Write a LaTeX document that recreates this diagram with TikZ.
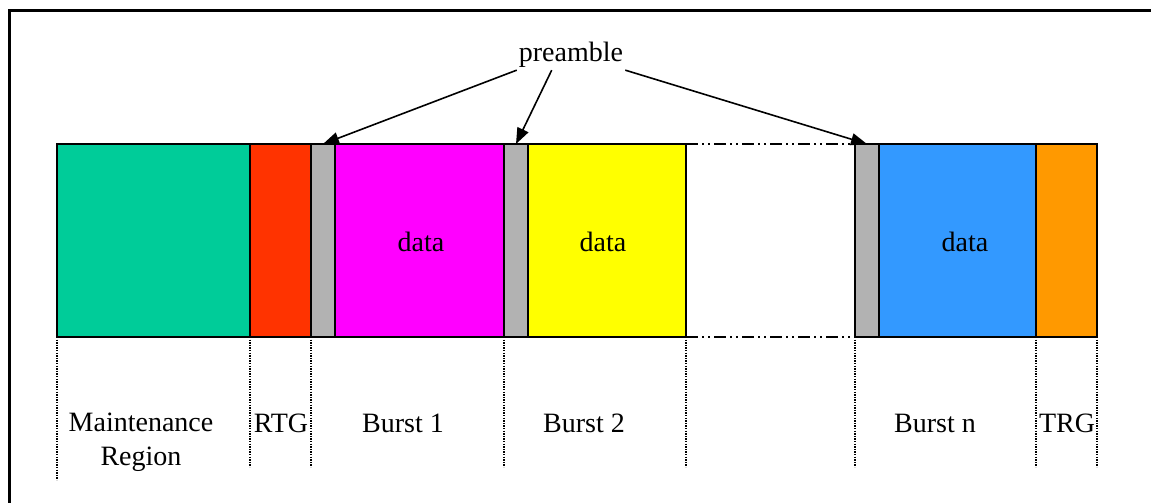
\documentclass[tikz,border=0pt]{standalone}
\usepackage{fontspec}
\setmainfont{Liberation Serif}
\usetikzlibrary{arrows.meta}
\definecolor{cgreen}{HTML}{00CC99}
\definecolor{cred}{HTML}{FF3300}
\definecolor{cgray}{HTML}{B2B2B2}
\definecolor{cmag}{HTML}{FF00FF}
\definecolor{cyel}{HTML}{FFFF00}
\definecolor{cblue}{HTML}{3399FF}
\definecolor{corange}{HTML}{FF9900}
\begin{document}
\begin{tikzpicture}[x=1pt,y=-1pt,
  seg/.style={draw=black,line width=2pt,minimum height=193pt,inner sep=0pt,anchor=north west,outer sep=0pt},
  gapbox/.style={minimum height=193pt,inner sep=0pt,anchor=north west,outer sep=0pt},
  dotline/.style={line width=1.3pt,dash pattern=on 1.3pt off 1.3pt},
  dashdot/.style={line width=2pt,dash pattern=on 12pt off 4pt on 2pt off 4pt on 2pt off 4pt},
  arr/.style={line width=1.6pt,-{Triangle[length=16pt,width=12pt]}},
  lbl/.style={font=\fontsize{28}{34}\selectfont,inner sep=0pt},
  frame/.style={line width=3pt}
]
\useasboundingbox (0,0) rectangle (1151,503);
\draw[frame] (9.5,510) -- (9.5,11) -- (1160,11);

% segments
\node[seg,fill=cgreen,minimum width=193pt] (mr) at (57,144) {};
\node[seg,fill=cred,minimum width=61pt] (rtg) at (250,144) {};
\node[seg,fill=cgray,minimum width=24pt] (p1) at (311,144) {};
\node[seg,fill=cmag,minimum width=169pt] (b1) at (335,144) {};
\node[seg,fill=cgray,minimum width=24pt] (p2) at (504,144) {};
\node[seg,fill=cyel,minimum width=158pt] (b2) at (528,144) {};
\node[gapbox,minimum width=169pt] (gap) at (686,144) {};
\node[seg,fill=cgray,minimum width=24pt] (pn) at (855,144) {};
\node[seg,fill=cblue,minimum width=157pt] (bn) at (879,144) {};
\node[seg,fill=corange,minimum width=61pt] (trg) at (1036,144) {};

\draw[dashdot] (gap.north west) -- (gap.north east);
\draw[dashdot] (gap.south west) -- (gap.south east);

% data labels
\node[lbl,anchor=base] (d1) at (421,251) {data};
\node[lbl,anchor=base] (d2) at (603,251) {data};
\node[lbl,anchor=base] (dn) at (965,251) {data};

% dotted guide lines
\draw[dotline] (mr.south west) -- ++(0,143);
\draw[dotline] (rtg.south west) -- ++(0,130);
\draw[dotline] (p1.south west) -- ++(0,130);
\draw[dotline] (p2.south west) -- ++(0,130);
\draw[dotline] (gap.south west) -- ++(0,130);
\draw[dotline] (pn.south west) -- ++(0,130);
\draw[dotline] (trg.south west) -- ++(0,130);
\draw[dotline] (trg.south east) -- ++(0,130);

% bottom labels
\node[lbl,anchor=north,align=center] (lmr) at (141,413) {Maintenance\\Region};
\node[lbl,anchor=base] (lrtg) at (281,432) {RTG};
\node[lbl,anchor=base] (lb1) at (403,432) {Burst 1};
\node[lbl,anchor=base] (lb2) at (584,432) {Burst 2};
\node[lbl,anchor=base] (lbn) at (935,432) {Burst n};
\node[lbl,anchor=base] (ltrg) at (1067,432) {TRG};

% preamble
\node[lbl,anchor=base,inner sep=2pt] (pre) at (571,62) {preamble};
\draw[arr] (pre.south west) -- (p1.north);
\draw[arr] ([xshift=35pt]pre.south west) -- (p2.north);
\draw[arr] (pre.south east) -- (pn.north);
\end{tikzpicture}
\end{document}
